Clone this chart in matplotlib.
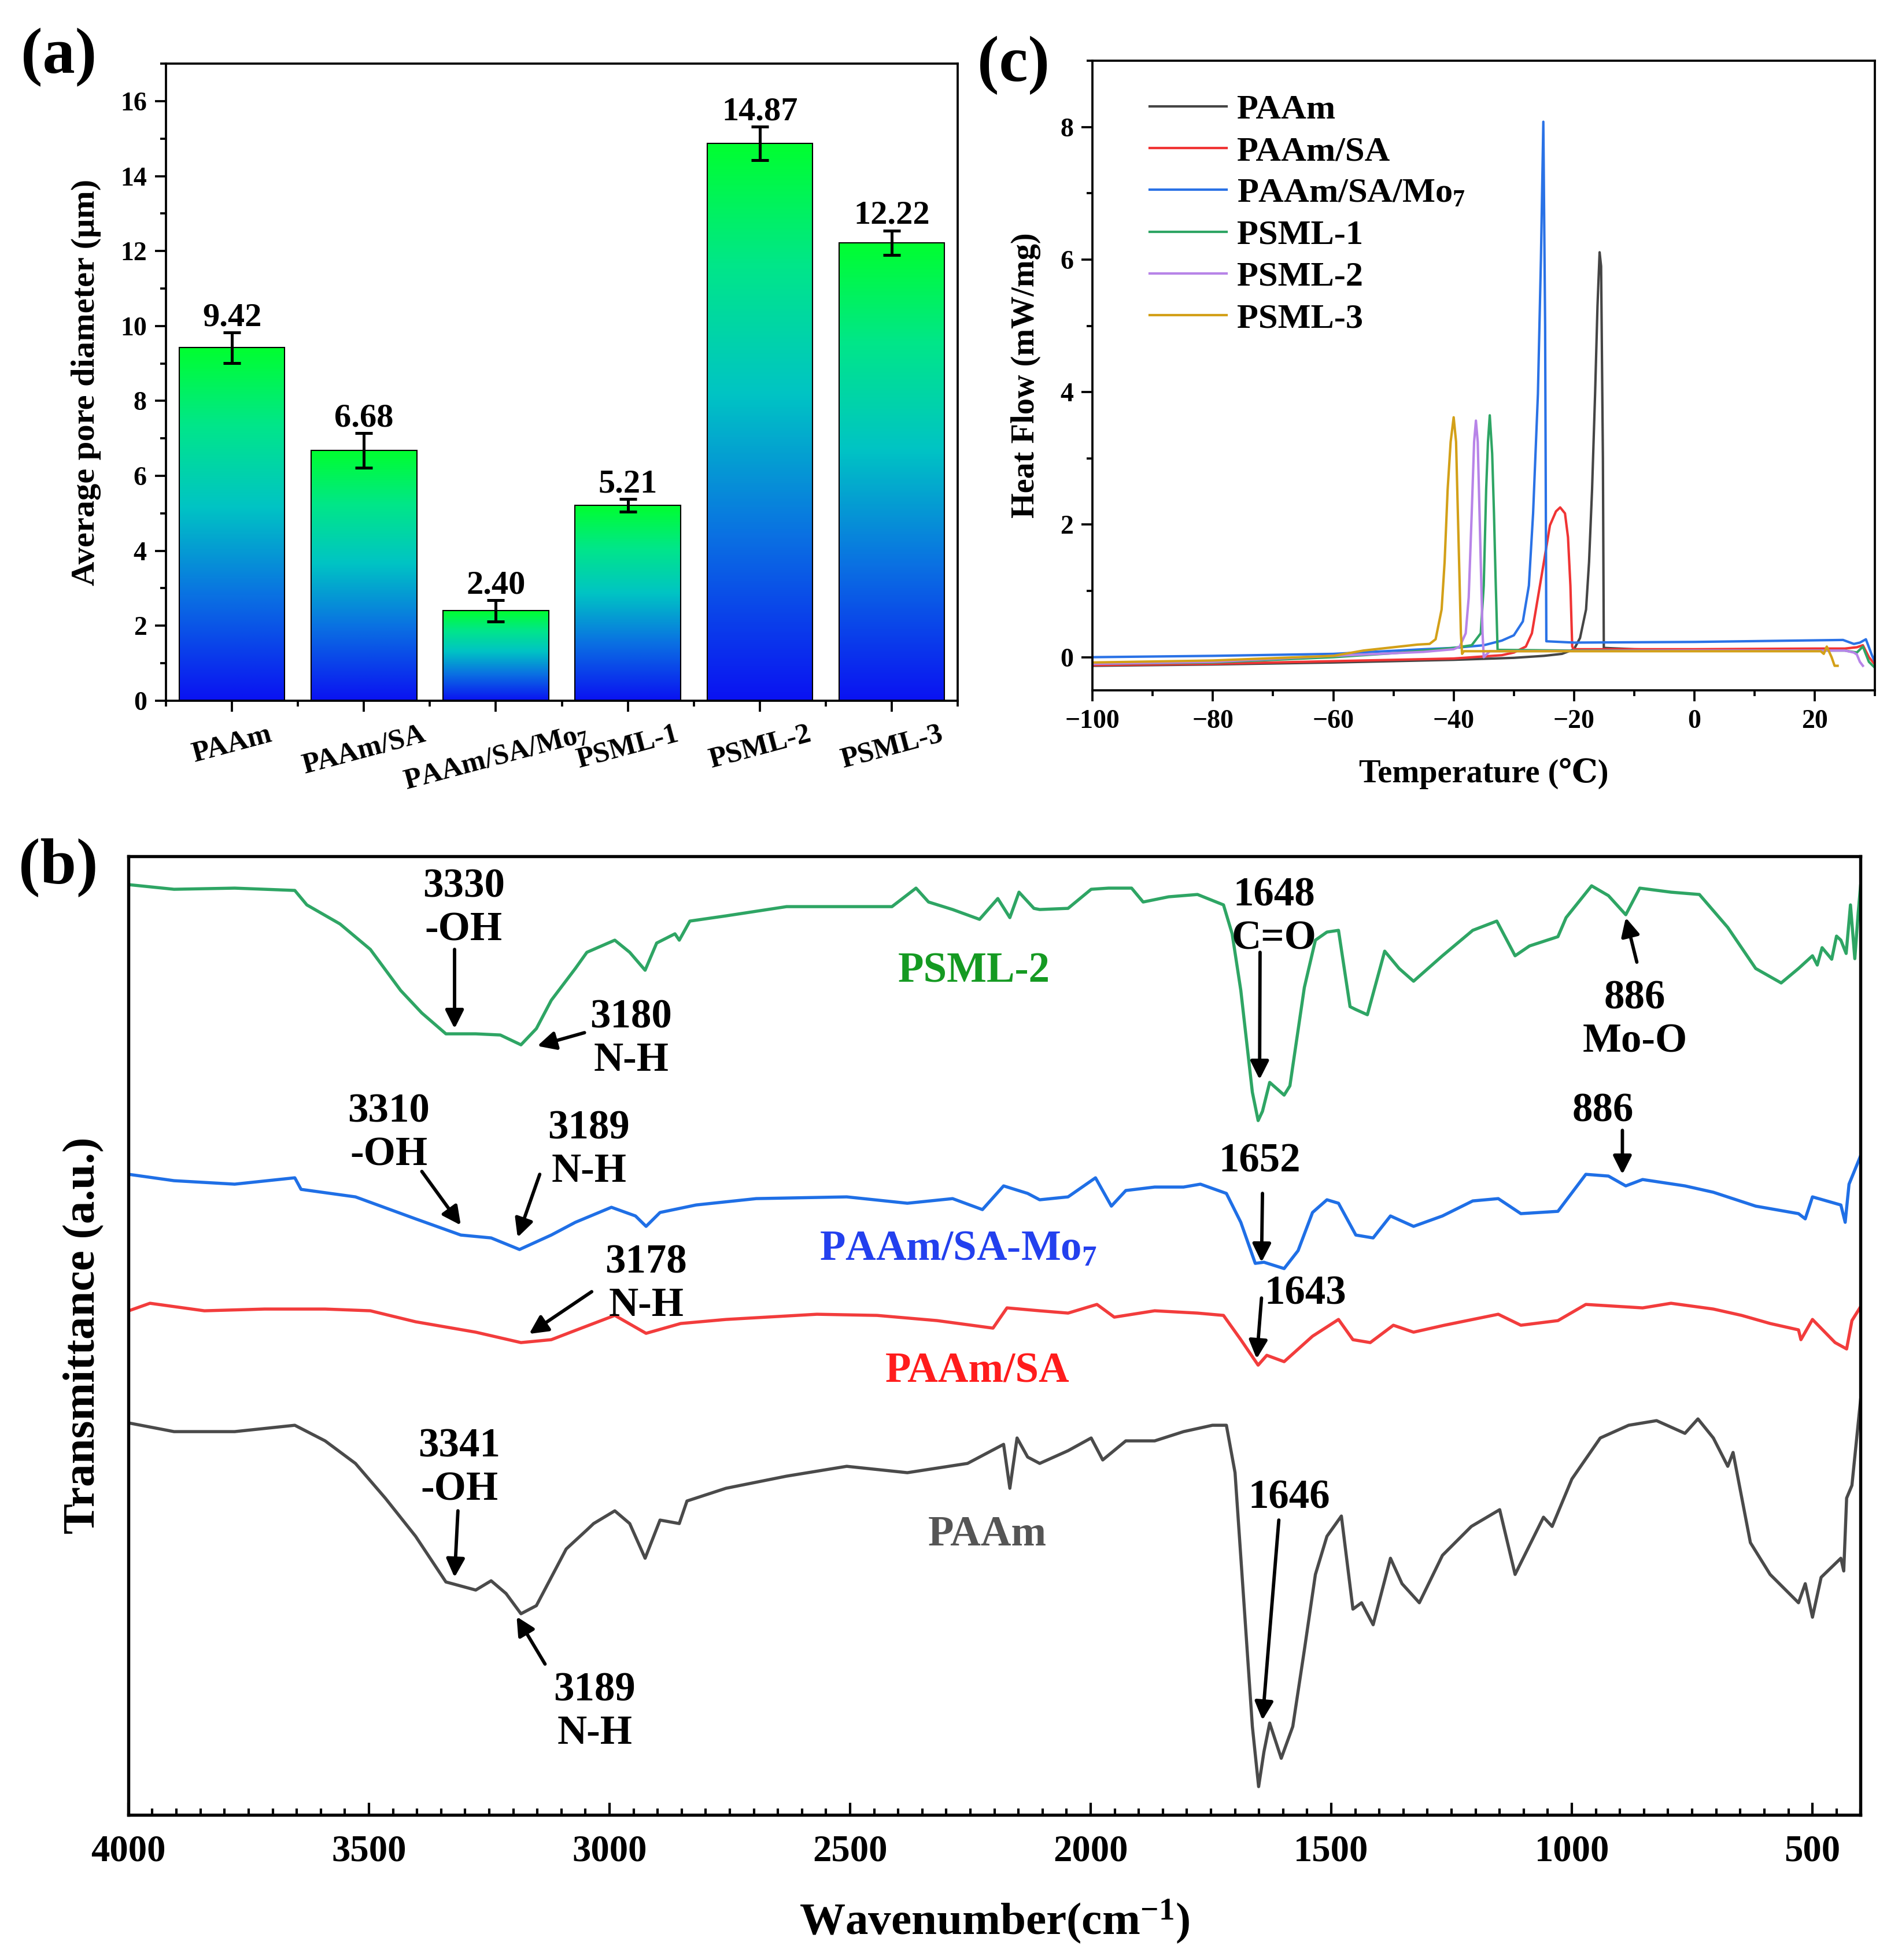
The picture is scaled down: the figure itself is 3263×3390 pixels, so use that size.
import numpy as np
import matplotlib
matplotlib.use('Agg')
import matplotlib.pyplot as plt
from matplotlib.colors import LinearSegmentedColormap
from matplotlib.ticker import MultipleLocator, FixedLocator

plt.rcParams['font.family'] = ['Liberation Serif', 'DejaVu Serif']
plt.rcParams['font.weight'] = 'bold'
plt.rcParams['axes.labelweight'] = 'bold'
plt.rcParams['mathtext.fontset'] = 'custom'
plt.rcParams['mathtext.rm'] = 'Liberation Serif:bold'
plt.rcParams['mathtext.bf'] = 'Liberation Serif:bold'
plt.rcParams['mathtext.it'] = 'Liberation Serif:bold'
plt.rcParams['mathtext.default'] = 'bf'

# ---------------- data: (a) pore diameter ----------------
samples = ['PAAm', 'PAAm/SA', 'PAAm/SA/Mo$_7$', 'PSML-1', 'PSML-2', 'PSML-3']
pore = [9.42, 6.68, 2.40, 5.21, 14.87, 12.22]
pore_err = [0.41, 0.46, 0.28, 0.17, 0.45, 0.33]

# ---------------- data: (c) DSC ----------------
dsc_names = ['PAAm', 'PAAm/SA', 'PAAm/SA/Mo$_7$', 'PSML-1', 'PSML-2', 'PSML-3']
dsc_colors = ['#454545', '#f03434', '#2a72e6', '#2ea564', '#b784e8', '#d3a018']

paam_T = [-100, -80, -60, -40, -30, -25, -22, -20, -19, -18, -17.5, -17, -16.5,
          -16.1, -15.75, -15.5, -15.2, -15.05, -10, -3.2]
paam_H = [-0.13, -0.11, -0.08, -0.04, -0.01, 0.02, 0.05, 0.12, 0.29, 0.72, 1.44,
          2.53, 3.97, 5.3, 6.11, 5.9, 3.0, 0.14, 0.12, 0.11]
sa_T = [-100, -80, -60, -40, -32, -30, -28, -27, -26, -25, -24, -23, -22.3, -21.5,
        -21, -20.6, -20.3, -20, 0, 20, 25, 27, 28, 29, 30]
sa_H = [-0.12, -0.10, -0.06, -0.02, 0.03, 0.07, 0.16, 0.36, 0.90, 1.44, 1.99, 2.20,
        2.26, 2.17, 1.81, 1.08, 0.16, 0.12, 0.12, 0.13, 0.13, 0.15, 0.18, 0.0, -0.11]
mo_T = [-100, -80, -60, -45, -40, -35, -32, -30, -28.5, -27.5, -26.8, -26, -25.5,
        -25.1, -24.8, -24.6, -20, 0, 24.7, 26.5, 27.5, 28.5, 29.5, 30]
mo_H = [0.0, 0.02, 0.05, 0.12, 0.14, 0.18, 0.25, 0.33, 0.54, 1.08, 2.17, 3.97, 6.0,
        8.08, 5.0, 0.24, 0.22, 0.23, 0.26, 0.20, 0.22, 0.27, 0.03, -0.07]
p1_T = [-100, -80, -60, -50, -40, -37, -35.5, -35, -34.6, -34.3, -34.0, -33.6,
        -33.3, -33.0, -32.7, -20, 0, 25, 27, 28, 29, 30]
p1_H = [-0.10, -0.08, 0.0, 0.06, 0.14, 0.18, 0.36, 1.08, 2.53, 3.25, 3.65, 3.07,
        2.17, 1.08, 0.11, 0.10, 0.10, 0.10, 0.07, 0.16, -0.07, -0.16]
p2_T = [-100, -80, -60, -45, -40, -39, -38, -37.5, -37, -36.6, -36.3, -36, -35.6,
        -35.2, -35.0, -34, 0, 25, 26.5, 27, 27.5, 28]
p2_H = [-0.10, -0.07, 0.02, 0.08, 0.12, 0.16, 0.36, 0.90, 2.17, 3.25, 3.57, 3.25,
        1.81, 0.36, 0.0, 0.09, 0.10, 0.10, 0.07, 0.04, -0.07, -0.13]
p3_T = [-100, -80, -60, -55, -46, -44, -43, -42, -41.5, -41, -40.5, -40, -39.6,
        -39.2, -38.8, -38.6, -38.3, 0, 21, 21.5, 22, 22.8, 23.3, 23.8]
p3_H = [-0.08, -0.05, 0.02, 0.10, 0.19, 0.20, 0.27, 0.72, 1.44, 2.53, 3.25, 3.62,
        3.25, 1.81, 0.36, 0.05, 0.09, 0.09, 0.09, 0.05, 0.16, 0.0, -0.13, -0.13]

# ---------------- data: (b) FTIR (offset transmittance, a.u.) ----------------
psml2_wn = [3999, 3905, 3779, 3654, 3629, 3560, 3497, 3434, 3390, 3340, 3278, 3227,
            3184, 3152, 3121, 3071, 3047, 2989, 2958, 2926, 2902, 2864, 2855, 2833,
            2758, 2632, 2507, 2413, 2363, 2337, 2287, 2231, 2193, 2168, 2149, 2118,
            2106, 2047, 1999, 1963, 1915, 1891, 1838, 1778, 1724, 1706, 1688, 1664,
            1652, 1643, 1628, 1598, 1586, 1556, 1533, 1509, 1485, 1461, 1449, 1425,
            1389, 1359, 1329, 1269, 1206, 1156, 1118, 1088, 1029, 1012, 959, 924,
            888, 859, 794, 735, 676, 618, 565, 529, 500, 490, 480, 460, 450, 441,
            430, 421, 412, 405, 400]
psml2_t = [1609, 1601, 1603, 1599, 1574, 1541, 1497, 1426, 1387, 1351, 1351, 1349,
           1332, 1360, 1409, 1464, 1492, 1513, 1492, 1461, 1508, 1524, 1513, 1546,
           1555, 1571, 1571, 1571, 1603, 1579, 1566, 1549, 1585, 1552, 1596, 1568,
           1566, 1568, 1601, 1603, 1603, 1579, 1588, 1592, 1574, 1524, 1426, 1250,
           1201, 1217, 1267, 1245, 1261, 1431, 1513, 1527, 1530, 1398, 1393, 1384,
           1494, 1464, 1442, 1486, 1530, 1546, 1486, 1503, 1519, 1552, 1607, 1590,
           1557, 1603, 1596, 1592, 1535, 1464, 1439, 1464, 1486, 1470, 1500, 1480,
           1520, 1513, 1490, 1574, 1481, 1560, 1607]
mo7_wn = [3999, 3905, 3779, 3654, 3641, 3528, 3403, 3309, 3246, 3187, 3121, 3071,
          2996, 2946, 2924, 2895, 2820, 2695, 2507, 2381, 2287, 2225, 2181, 2131,
          2106, 2047, 1990, 1957, 1927, 1867, 1807, 1772, 1718, 1688, 1658, 1640,
          1598, 1569, 1539, 1509, 1485, 1449, 1413, 1377, 1329, 1269, 1206, 1153,
          1106, 1029, 971, 924, 888, 853, 765, 706, 618, 529, 515, 500, 441, 432,
          424, 400]
mo7_t = [1108, 1097, 1091, 1102, 1082, 1069, 1031, 1003, 998, 978, 1003, 1025,
         1051, 1036, 1018, 1042, 1055, 1066, 1069, 1058, 1066, 1047, 1088, 1075,
         1064, 1069, 1102, 1053, 1080, 1086, 1086, 1091, 1075, 1025, 954, 956,
         945, 976, 1042, 1064, 1058, 1003, 998, 1036, 1018, 1036, 1062, 1066,
         1040, 1044, 1108, 1105, 1088, 1099, 1088, 1077, 1053, 1040, 1031, 1069,
         1055, 1025, 1091, 1140]
sa_wn = [3999, 3955, 3842, 3717, 3591, 3497, 3403, 3278, 3184, 3121, 3071, 2989,
         2924, 2852, 2758, 2569, 2444, 2319, 2203, 2174, 2106, 2047, 1987, 1951,
         1867, 1778, 1724, 1688, 1652, 1634, 1598, 1539, 1485, 1455, 1419, 1371,
         1329, 1265, 1153, 1106, 1029, 971, 853, 794, 706, 647, 588, 529, 524,
         500, 453, 429, 418, 400]
sa_t = [872, 885, 872, 875, 875, 872, 853, 835, 817, 822, 838, 864,
        833, 850, 857, 866, 864, 855, 842, 877, 872, 868, 883, 861,
        872, 868, 864, 822, 778, 795, 784, 828, 857, 822, 817, 847,
        835, 847, 866, 847, 855, 883, 877, 885, 875, 864, 850, 839, 822,
        857, 817, 806, 855, 879]
paam_wn = [3999, 3905, 3779, 3654, 3591, 3528, 3466, 3403, 3340, 3278, 3246, 3215,
           3184, 3152, 3090, 3047, 3033, 2989, 2958, 2926, 2895, 2855, 2839, 2758,
           2632, 2507, 2381, 2256, 2181, 2168, 2153, 2131, 2106, 2047, 1999, 1975,
           1927, 1867, 1807, 1747, 1718, 1700, 1682, 1664, 1651, 1640, 1628, 1604,
           1580, 1556, 1533, 1509, 1479, 1455, 1437, 1413, 1377, 1353, 1317, 1269,
           1209, 1150, 1118, 1059, 1041, 1000, 941, 882, 824, 765, 738, 706, 676,
           665, 629, 588, 529, 515, 500, 482, 441, 435, 429, 418, 400]
paam_t = [678, 663, 663, 674, 647, 608, 548, 482, 403, 389, 405, 383,
          348, 362, 460, 493, 504, 526, 504, 444, 510, 504, 543, 565,
          586, 603, 592, 608, 641, 565, 652, 619, 608, 630, 652, 614,
          647, 647, 663, 674, 674, 592, 373, 153, 49, 109, 159, 98,
          153, 285, 416, 482, 517, 356, 367, 329, 444, 400, 367, 449,
          499, 528, 416, 515, 499, 581, 652, 674, 682, 660, 685, 652, 603,
          627, 471, 416, 367, 400, 342, 411, 444, 422, 548, 570, 718]

# ---------------- figure ----------------
fig = plt.figure(figsize=(3263 / 300, 3390 / 300), dpi=300)

# (a) bar chart with vertical gradient fill
cmap = LinearSegmentedColormap.from_list(
    'bg', [(0.0, '#0a12f2'), (0.3, '#0a72e2'), (0.55, '#00c4c4'),
           (0.78, '#00e68a'), (1.0, '#00ff30')])
ax_a = fig.add_axes([0.088, 0.6425, 0.4195, 0.325])
xpos = np.arange(len(samples))
bars = ax_a.bar(xpos, pore, width=0.8, facecolor='none', edgecolor='black',
                linewidth=0.5, zorder=3)
grad = np.linspace(0, 1, 256).reshape(-1, 1)
for b in bars:
    x0, w, h = b.get_x(), b.get_width(), b.get_height()
    ax_a.imshow(grad, extent=[x0, x0 + w, 0, h], origin='lower', aspect='auto',
                cmap=cmap, zorder=2)
ax_a.errorbar(xpos, pore, yerr=pore_err, fmt='none', ecolor='black',
              elinewidth=1.2, capsize=3.5, capthick=1.2, zorder=4)
for xi, v, e in zip(xpos, pore, pore_err):
    ax_a.text(xi, v + e + 0.18, '%.2f' % v, ha='center', va='baseline',
              fontsize=14, fontweight='bold')
ax_a.set_xlim(-0.5, 5.5)
ax_a.set_ylim(0, 17)
ax_a.set_xticks(xpos)
ax_a.set_xticklabels(samples, rotation=15, fontsize=12)
ax_a.xaxis.set_minor_locator(FixedLocator(np.arange(-0.5, 6, 1.0)))
ax_a.yaxis.set_major_locator(MultipleLocator(2))
ax_a.yaxis.set_minor_locator(MultipleLocator(1))
ax_a.tick_params(axis='both', which='major', direction='out', length=4.5, width=0.9,
                 labelsize=11)
ax_a.tick_params(axis='x', which='major', labelsize=12, pad=4)
ax_a.tick_params(axis='both', which='minor', direction='out', length=2.5, width=0.9)
ax_a.set_ylabel('Average pore diameter (\u03bcm)', fontsize=14, labelpad=8)
for s in ax_a.spines.values():
    s.set_linewidth(0.9)

# (c) DSC
ax_c = fig.add_axes([0.579, 0.6478, 0.4146, 0.3212])
dsc_T = [paam_T, sa_T, mo_T, p1_T, p2_T, p3_T]
dsc_H = [paam_H, sa_H, mo_H, p1_H, p2_H, p3_H]
for T, H, c, n in zip(dsc_T, dsc_H, dsc_colors, dsc_names):
    ax_c.plot(T, H, color=c, lw=1.0, label=n)
ax_c.set_xlim(-100, 30)
ax_c.set_ylim(-0.5, 9.0)
ax_c.xaxis.set_major_locator(MultipleLocator(20))
ax_c.xaxis.set_minor_locator(MultipleLocator(10))
ax_c.yaxis.set_major_locator(MultipleLocator(2))
ax_c.yaxis.set_minor_locator(MultipleLocator(1))
ax_c.tick_params(axis='both', which='major', direction='out', length=4.5, width=0.9,
                 labelsize=11)
ax_c.tick_params(axis='both', which='minor', direction='out', length=2.5, width=0.9)
ax_c.set_xlabel('Temperature (\u2103)', fontsize=13.5, labelpad=10)
ax_c.set_ylabel('Heat Flow (mW/mg)', fontsize=13.5, labelpad=8)
for s in ax_c.spines.values():
    s.set_linewidth(0.9)
ax_c.legend(loc='upper left', bbox_to_anchor=(0.033, 0.997), frameon=False,
            fontsize=14.5, handlelength=2.2, handletextpad=0.3, labelspacing=0.28)

# (b) FTIR
ax_b = fig.add_axes([0.068, 0.074, 0.918, 0.4891])
ax_b.plot(psml2_wn, psml2_t, color='#2ea564', lw=1.3)
ax_b.plot(mo7_wn, mo7_t, color='#1f6fe6', lw=1.3)
ax_b.plot(sa_wn, sa_t, color='#f23c3c', lw=1.3)
ax_b.plot(paam_wn, paam_t, color='#4a4a4a', lw=1.3)
ax_b.set_xlim(4000, 400)
ax_b.set_ylim(0, 1658)
ax_b.set_yticks([])
ax_b.xaxis.set_major_locator(MultipleLocator(500))
ax_b.xaxis.set_minor_locator(MultipleLocator(50))
ax_b.tick_params(axis='x', which='major', direction='in', length=5, width=1.0,
                 labelsize=15.5, pad=8)
ax_b.tick_params(axis='x', which='minor', direction='in', length=2.6, width=1.0)
for s in ax_b.spines.values():
    s.set_linewidth(1.3)
ax_b.set_xlabel('Wavenumber(cm$^{-1}$)', fontsize=19, labelpad=12)
ax_b.set_ylabel('Transmittance (a.u.)', fontsize=19, labelpad=10)

series_labels = [('PSML-2', 2243, 1459, '#159a22'),
                 ('PAAm/SA-Mo$_7$', 2275, 977, '#2340ee'),
                 ('PAAm/SA', 2236, 767, '#ff1c1c'),
                 ('PAAm', 2215, 484, '#555555')]
for txt, xw, yv, c in series_labels:
    ax_b.text(xw, yv, txt, color=c, fontsize=17.5, ha='center', va='center')

# text, text position, arrow tail, arrow tip
peak_notes = [
    ('3330\n-OH', (3303, 1568), (3322, 1497), (3322, 1360)),
    ('3180\nN-H', (2955, 1342), (3052, 1353), (3150, 1330)),
    ('3310\n-OH', (3459, 1179), (3390, 1113), (3309, 1020)),
    ('3189\nN-H', (3043, 1150), (3145, 1108), (3191, 999)),
    ('3178\nN-H', (2924, 918), (3037, 905), (3167, 832)),
    ('3341\n-OH', (3312, 600), (3315, 526), (3322, 411)),
    ('3189\nN-H', (3031, 178), (3134, 261), (3193, 343)),
    ('1648\nC=O', (1619, 1553), (1648, 1492), (1649, 1272)),
    ('1652', (1649, 1130), (1643, 1075), (1645, 956)),
    ('1643', (1554, 901), (1645, 894), (1655, 789)),
    ('1646', (1588, 548), (1609, 510), (1643, 164)),
    ('886\nMo-O', (869, 1375), (865, 1475), (888, 1552)),
    ('886', (935, 1217), (895, 1184), (895, 1108)),
]
for txt, tpos, tail, tip in peak_notes:
    ax_b.text(tpos[0], tpos[1], txt, fontsize=17, ha='center', va='center',
              linespacing=1.2)
    ax_b.annotate('', xy=tip, xytext=tail,
                  arrowprops=dict(arrowstyle='-|>', color='black', lw=1.4,
                                  mutation_scale=16, shrinkA=0, shrinkB=0))

# panel letters
fig.text(0.031, 0.971, '(a)', fontsize=27, ha='center', va='center')
fig.text(0.537, 0.967, '(c)', fontsize=27, ha='center', va='center')
fig.text(0.031, 0.5575, '(b)', fontsize=27, ha='center', va='center')

fig.savefig('out.png', dpi=300)
